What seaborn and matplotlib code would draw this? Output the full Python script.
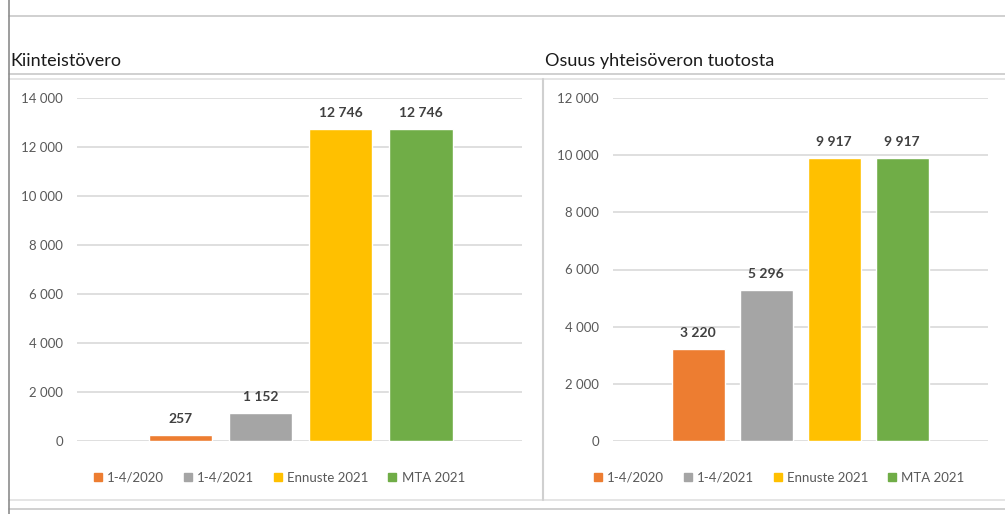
import matplotlib.pyplot as plt
import matplotlib.ticker as ticker
from matplotlib.lines import Line2D
from matplotlib.patches import Patch
import pandas as pd
import seaborn as sns

# Data
series = ['1-4/2020', '1-4/2021', 'Ennuste 2021', 'MTA 2021']
colors = ['#ED7D31', '#A5A5A5', '#FFC000', '#70AD47']
kiinteistovero = [257, 1152, 12746, 12746]
yhteisovero = [3220, 5296, 9917, 9917]

sns.set_style('white')
plt.rcParams['font.family'] = ['Lato', 'DejaVu Sans']

W, H = 1005, 514
fig = plt.figure(figsize=(W / 100, H / 100), dpi=100)


def px_axes(x0, y0, x1, y1):
    # pixel box (top-left origin) -> figure axes
    return fig.add_axes([x0 / W, 1 - y1 / H, (x1 - x0) / W, (y1 - y0) / H])


def fmt(v, pos=None):
    return f'{int(v):,}'.replace(',', ' ')


def draw_chart(ax, values, ymax, xlim, width, leg_x):
    df = pd.DataFrame({'series': series, 'value': values})
    sns.barplot(data=df, x='series', y='value', hue='series', palette=colors,
                order=series, hue_order=series, dodge=False, width=width,
                saturation=1, legend=False, ax=ax, zorder=3)
    ax.set_ylim(0, ymax)
    ax.set_xlim(*xlim)
    ax.yaxis.set_major_locator(ticker.MultipleLocator(2000))
    ax.yaxis.set_major_formatter(ticker.FuncFormatter(fmt))
    ax.grid(axis='y', color='#D9D9D9', linewidth=1.2, zorder=0)
    ax.set_xticks([])
    ax.set_xlabel('')
    ax.set_ylabel('')
    ax.tick_params(axis='y', length=0, pad=10, labelsize=9.5, labelcolor='#595959')
    for s in ax.spines.values():
        s.set_visible(False)
    for p, v in zip(ax.patches, values):
        ax.annotate(fmt(v), (p.get_x() + p.get_width() / 2, v),
                    xytext=(0, 7), textcoords='offset points', ha='center',
                    va='bottom', fontsize=10, fontweight='bold', color='#404040')
    handles = [Patch(color=c, label=s) for s, c in zip(series, colors)]
    ax.legend(handles=handles, loc='upper center', bbox_to_anchor=(leg_x, -0.055),
              ncol=4, frameon=False, fontsize=9.5, handlelength=0.6,
              handleheight=0.6, handletextpad=0.4, columnspacing=1.5,
              labelcolor='#595959')


ax1 = px_axes(77, 98, 522, 441)
draw_chart(ax1, kiinteistovero, 14000, (-1.29, 4.26), 0.79, 0.455)
ax2 = px_axes(613, 98, 988, 441)
draw_chart(ax2, yhteisovero, 12000, (-1.25, 4.26), 0.78, 0.443)

# titles
fig.text(10 / W, 1 - 61 / H, 'Kiinteistövero', fontsize=13, color='#1a1a1a', va='center')
fig.text(545 / W, 1 - 61 / H, 'Osuus yhteisöveron tuotosta', fontsize=13,
         color='#1a1a1a', va='center')

# screenshot frame lines
def hline(y, x0=9, x1=W, c='#C8C8C8', lw=1.2):
    fig.add_artist(Line2D([x0 / W, x1 / W], [1 - y / H, 1 - y / H], color=c, lw=lw))


def vline(x, y0, y1, c='#C8C8C8', lw=1.2):
    fig.add_artist(Line2D([x / W, x / W], [1 - y0 / H, 1 - y1 / H], color=c, lw=lw))


hline(16)
hline(74)
hline(79, c='#E0E0E0')
hline(500, c='#E0E0E0')
hline(509)
vline(9, 0, H, c='#8C8C8C')
vline(543, 79, 500, c='#D0D0D0', lw=1.5)

fig.savefig('out.png', dpi=100)
